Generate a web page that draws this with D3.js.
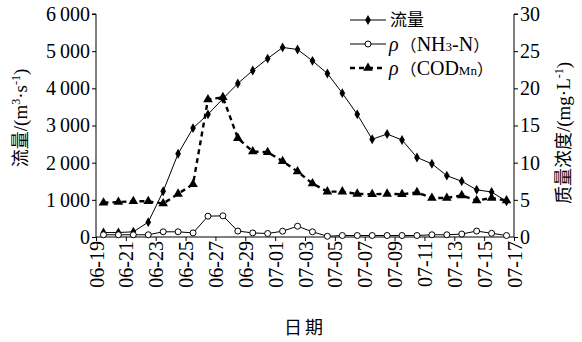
<!DOCTYPE html>
<html><head><meta charset="utf-8">
<script src="https://cdn.jsdelivr.net/npm/d3@7"></script>
<style>
body{margin:0;background:#fff}
.serif{font-family:"Liberation Serif","Times New Roman","DejaVu Serif",serif}
.cjk{font-family:"Noto Sans CJK SC","Noto Sans CJK JP",sans-serif}
</style>
</head><body>
<svg id="chart" width="582" height="342"></svg>
<script>
// Daily samples (one per day, plotted at mid-day)
const days = ["06-19","06-20","06-21","06-22","06-23","06-24","06-25","06-26","06-27","06-28",
  "06-29","06-30","07-01","07-02","07-03","07-04","07-05","07-06","07-07","07-08",
  "07-09","07-10","07-11","07-12","07-13","07-14","07-15","07-16"];
const dayTicks = ["06-19","06-21","06-23","06-25","06-27","06-29","07-01","07-03",
  "07-05","07-07","07-09","07-11","07-13","07-15","07-17"];
// 流量 (m3/s)
const flow = [120,120,140,400,1230,2240,2930,3300,3720,4130,
  4480,4800,5100,5045,4740,4400,3870,3300,2630,2770,
  2610,2140,1970,1650,1500,1270,1210,960];
// ρ(NH3-N) mg/L
const nh3 = [0.3,0.3,0.3,0.3,0.7,0.7,0.55,2.8,2.85,0.8,
  0.55,0.47,0.78,1.45,0.7,0.1,0.2,0.2,0.2,0.2,
  0.2,0.2,0.3,0.3,0.4,0.8,0.5,0.2];
// ρ(CODMn) mg/L
const cod = [4.6,4.7,4.8,4.8,4.5,5.8,7.1,18.5,18.8,13.3,
  11.5,11.4,10.2,8.8,7.2,6.1,6.1,5.8,5.75,5.8,
  5.75,6.0,5.25,5.25,5.6,4.9,5.25,4.9];
const flowTicks = [0,1000,2000,3000,4000,5000,6000];
const concTicks = [0,5,10,15,20,25,30];

const svg = d3.select("#chart");
const X0 = 96, X1 = 514, Y0 = 237, Y1 = 14;
const FS = 20;

const x = d3.scaleLinear().domain([0, dayTicks.length*2-2]).range([X0, X1]);
const yL = d3.scaleLinear().domain([0, 6000]).range([Y0, Y1]);
const yR = d3.scaleLinear().domain([0, 30]).range([Y0, Y1]);
const fmt = d3.formatLocale({decimal:".", thousands:"\u2009", grouping:[3], currency:["",""]}).format(",");

// axes
const gL = svg.append("g").attr("transform",`translate(${X0},0)`)
  .call(d3.axisLeft(yL).tickValues(flowTicks).tickSize(4).tickFormat(d => fmt(d)));
const gR = svg.append("g").attr("transform",`translate(${X1},0)`)
  .call(d3.axisRight(yR).tickValues(concTicks).tickSize(4));
const gB = svg.append("g").attr("transform",`translate(0,${Y0})`)
  .call(d3.axisBottom(x).tickValues(d3.range(0, dayTicks.length*2, 2)).tickSize(4)
    .tickFormat((d,i) => dayTicks[i]));
[gL,gR,gB].forEach(g => {
  g.attr("font-family",null).attr("font-size",null).attr("class","serif");
  g.select(".domain").attr("stroke","#000").attr("stroke-width",1);
  g.selectAll(".tick line").attr("stroke","#000");
  g.selectAll("text").style("font-size",FS+"px").attr("fill","#000");
});
gB.select(".domain").attr("d",`M${X0},0H${X1}`);
gL.select(".domain").attr("d",`M-4,${Y1}H0V${Y0}`);
gR.select(".domain").attr("d",`M4,${Y1}H0V${Y0}`);
gL.selectAll(".tick text").attr("x",-6);
gR.selectAll(".tick text").attr("x",6);
gB.selectAll(".tick text")
  .attr("transform","rotate(-90)")
  .attr("text-anchor","end")
  .attr("x",-4).attr("y",0).attr("dy","0.35em");

// series
const px = (d,i) => x(i + 0.5);
const lineFlow = d3.line().x(px).y(d => yL(d));
const lineConc = d3.line().x(px).y(d => yR(d));

svg.append("path").datum(cod).attr("d",lineConc).attr("fill","none")
  .attr("stroke","#000").attr("stroke-width",2.4).attr("stroke-dasharray","5,4");
svg.append("path").datum(nh3).attr("d",lineConc).attr("fill","none")
  .attr("stroke","#000").attr("stroke-width",1);
svg.append("path").datum(flow).attr("d",lineFlow).attr("fill","none")
  .attr("stroke","#000").attr("stroke-width",1);

const tri = d3.symbol().type(d3.symbolTriangle).size(40);
const dia = d3.symbol().type(d3.symbolDiamond).size(28);
svg.append("g").selectAll("path").data(cod).join("path")
  .attr("d",tri).attr("transform",(d,i)=>`translate(${px(d,i)},${yR(d)})`).attr("fill","#000");
svg.append("g").selectAll("path").data(flow).join("path")
  .attr("d",dia).attr("transform",(d,i)=>`translate(${px(d,i)},${yL(d)})`).attr("fill","#000");
svg.append("g").selectAll("circle").data(nh3).join("circle")
  .attr("cx",px).attr("cy",d=>yR(d)).attr("r",3)
  .attr("fill","#fff").attr("stroke","#000").attr("stroke-width",1);

// axis titles
svg.append("text").attr("class","cjk").attr("transform","translate(27,118) rotate(-90)")
  .attr("text-anchor","middle").style("font-size","18px")
  .html(`流量<tspan class="serif" style="font-size:19px">/(m</tspan><tspan class="serif" style="font-size:12px" dy="-7">3</tspan><tspan class="serif" style="font-size:19px" dy="7">·s</tspan><tspan class="serif" style="font-size:12px" dy="-7">-1</tspan><tspan class="serif" style="font-size:19px" dy="7">)</tspan>`);
svg.append("text").attr("class","cjk").attr("transform","translate(570,133) rotate(-90)")
  .attr("text-anchor","middle").style("font-size","18px")
  .html(`质量浓度<tspan class="serif" style="font-size:19px">/(mg·L</tspan><tspan class="serif" style="font-size:12px" dy="-7">-1</tspan><tspan class="serif" style="font-size:19px" dy="7">)</tspan>`);
svg.append("text").attr("class","cjk").attr("x",305).attr("y",334).attr("text-anchor","middle")
  .style("font-size","18px").attr("letter-spacing",3).text("日期");

// legend
const leg = svg.append("g");
const rows = [
  {y:20, dash:null, w:1, mark:"dia"},
  {y:44, dash:null, w:1, mark:"circ"},
  {y:68, dash:"5,4", w:2.4, mark:"tri"}
];
rows.forEach(r => {
  leg.append("line").attr("x1",350).attr("x2",386).attr("y1",r.y).attr("y2",r.y)
    .attr("stroke","#000").attr("stroke-width",r.w).attr("stroke-dasharray",r.dash);
  if (r.mark==="dia") leg.append("path").attr("d",dia).attr("transform",`translate(368,${r.y})`);
  if (r.mark==="tri") leg.append("path").attr("d",tri).attr("transform",`translate(368,${r.y})`);
  if (r.mark==="circ") leg.append("circle").attr("cx",368).attr("cy",r.y).attr("r",3)
    .attr("fill","#fff").attr("stroke","#000");
});
leg.append("text").attr("class","cjk").attr("x",390).attr("y",26).style("font-size","17px").text("流量");
leg.append("text").attr("class","serif").attr("x",389).attr("y",51).style("font-size","20px")
  .html(`<tspan font-style="italic">ρ</tspan><tspan class="cjk" style="font-size:16px" dx="2">（</tspan>NH<tspan style="font-size:13px">3</tspan>-N<tspan class="cjk" style="font-size:16px">）</tspan>`);
leg.append("text").attr("class","serif").attr("x",389).attr("y",75).style("font-size","20px")
  .html(`<tspan font-style="italic">ρ</tspan><tspan class="cjk" style="font-size:16px" dx="2">（</tspan>COD<tspan style="font-size:13px">Mn</tspan><tspan class="cjk" style="font-size:16px">）</tspan>`);
</script>
</body></html>
